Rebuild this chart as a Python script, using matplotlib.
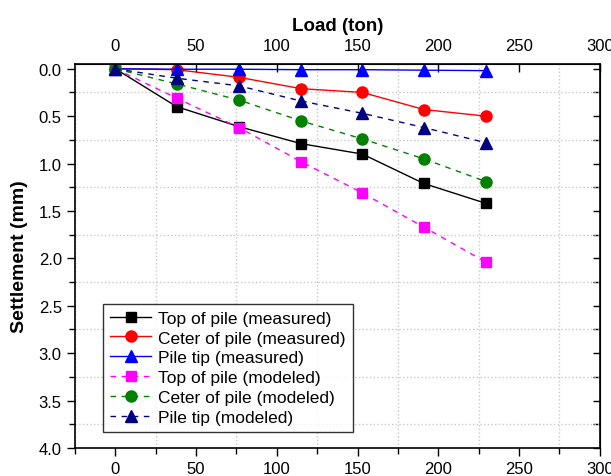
import matplotlib
matplotlib.use("Agg")
import matplotlib.pyplot as plt
from matplotlib.ticker import MultipleLocator, FormatStrFormatter

plt.rcParams['font.family'] = ['Liberation Sans', 'DejaVu Sans']

load = [0, 38, 76.5, 115, 153, 191, 229.5]
top_measured = [0, 0.40, 0.61, 0.79, 0.90, 1.21, 1.42]
center_measured = [0, 0.01, 0.09, 0.21, 0.25, 0.43, 0.50]
tip_measured = [0, 0.005, 0.005, 0.01, 0.01, 0.015, 0.02]
top_modeled = [0, 0.31, 0.62, 0.98, 1.31, 1.67, 2.04]
center_modeled = [0, 0.16, 0.33, 0.55, 0.74, 0.95, 1.19]
tip_modeled = [0, 0.10, 0.18, 0.34, 0.47, 0.62, 0.78]

labels = ["Top of pile (measured)", "Ceter of pile (measured)", "Pile tip (measured)",
          "Top of pile (modeled)", "Ceter of pile (modeled)", "Pile tip (modeled)"]

fig = plt.figure(figsize=(6.11, 4.77), dpi=100)
ax = fig.add_axes([0.1227, 0.0587, 0.859, 0.805])

ax.plot(load, top_measured, '-s', color='black', lw=1, ms=7, label=labels[0])
ax.plot(load, center_measured, '-o', color='red', lw=1, ms=8, label=labels[1])
ax.plot(load, tip_measured, '-^', color='blue', lw=1, ms=8, label=labels[2])
ax.plot(load, top_modeled, '--s', color='magenta', lw=1, ms=7, label=labels[3], dashes=(4, 4))
ax.plot(load, center_modeled, '--o', color='green', lw=1, ms=8, label=labels[4], dashes=(4, 4))
ax.plot(load, tip_modeled, '--^', color='navy', lw=1, ms=8, label=labels[5], dashes=(4, 4))

ax.set_xlim(-25, 300)
ax.set_ylim(4.0, -0.05)
ax.xaxis.set_major_locator(MultipleLocator(50))
ax.xaxis.set_minor_locator(MultipleLocator(25))
ax.yaxis.set_major_locator(MultipleLocator(0.5))
ax.yaxis.set_minor_locator(MultipleLocator(0.25))
ax.yaxis.set_major_formatter(FormatStrFormatter('%.1f'))
ax.tick_params(axis='both', which='major', direction='out', length=6, width=1, labelsize=12)
ax.tick_params(axis='both', which='minor', direction='out', length=4, width=1)
ax.grid(which='minor', color='#c8c8c8', linestyle=':', linewidth=1)
for s in ax.spines.values():
    s.set_linewidth(1.2)

ax.set_ylabel("Settlement (mm)", fontsize=14, fontweight='bold', labelpad=8)

secx = ax.secondary_xaxis('top')
secx.xaxis.set_major_locator(MultipleLocator(50))
secx.tick_params(axis='x', which='major', direction='in', length=6, width=1, labelsize=12, pad=8)
secx.set_xlabel("Load (ton)", fontsize=13.5, fontweight='bold', labelpad=6)

secy = ax.secondary_yaxis('right')
secy.yaxis.set_major_locator(MultipleLocator(0.5))
secy.yaxis.set_minor_locator(MultipleLocator(0.25))
secy.tick_params(axis='y', which='both', direction='in', length=5, width=1, labelright=False)

leg = ax.legend(loc='lower left', bbox_to_anchor=(0.053, 0.042), fontsize=12.5,
                frameon=True, fancybox=False, edgecolor='black', handlelength=2.4,
                labelspacing=0.27, borderpad=0.4, handletextpad=0.4, borderaxespad=0)
leg.get_frame().set_linewidth(1)

fig.savefig("out.png", dpi=100)
